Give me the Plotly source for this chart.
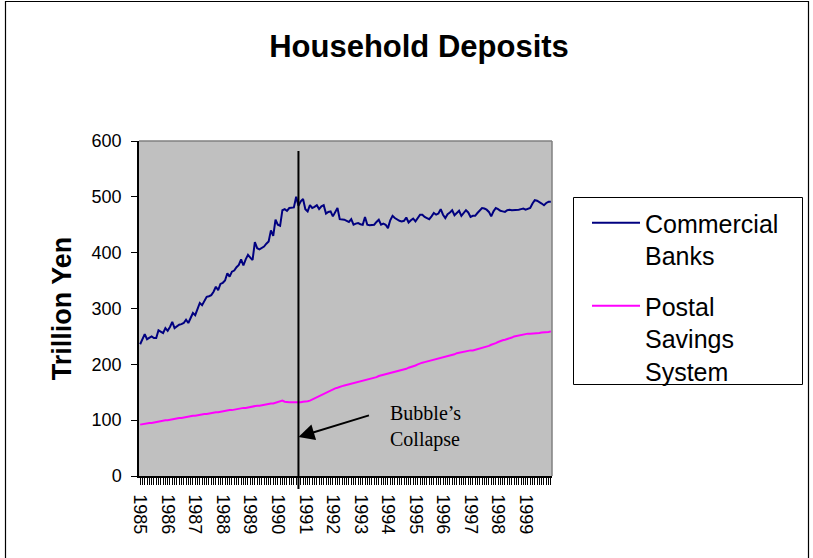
import plotly.graph_objects as go

years = list(range(1985, 2000))
month_names = ["Jan", "Feb", "Mar", "Apr", "May", "Jun", "Jul", "Aug", "Sep", "Oct", "Nov", "Dec"]
months = [f"{m} {y}" for y in years for m in month_names]

# Commercial Banks, trillion yen, monthly (one row per year)
commercial_banks = [
    236, 244, 254, 245, 248, 250, 247, 247, 261, 258, 256, 265,   # 1985
    260, 267, 276, 265, 268, 271, 272, 274, 280, 274, 283, 292,   # 1986
    288, 300, 310, 306, 314, 321, 322, 324, 330, 339, 333, 344,   # 1987
    346, 350, 363, 357, 366, 368, 374, 378, 388, 377, 388, 396,   # 1988
    391, 387, 419, 408, 406, 408, 411, 416, 420, 440, 430, 459,   # 1989
    450, 448, 476, 478, 475, 480, 480, 481, 500, 484, 492, 496,   # 1990
    478, 474, 485, 480, 482, 485, 478, 483, 485, 470, 473, 474,   # 1991
    465, 472, 480, 460, 460, 459, 457, 455, 460, 450, 452, 453,   # 1992
    451, 450, 464, 450, 449, 450, 450, 455, 459, 450, 452, 450,   # 1993
    444, 458, 466, 462, 459, 457, 456, 457, 463, 454, 458, 461,   # 1994
    456, 462, 468, 468, 464, 462, 460, 465, 471, 468, 470, 478,   # 1995
    468, 462, 469, 472, 476, 467, 472, 475, 466, 472, 476, 472,   # 1996
    464, 466, 466, 471, 475, 480, 479, 477, 473, 465, 474, 480,   # 1997
    478, 475, 474, 473, 476, 477, 476, 476, 477, 477, 478, 479,   # 1998
    477, 478, 480, 488, 494, 493, 491, 488, 485, 489, 491, 491,   # 1999
]

# Postal Savings System, trillion yen, monthly (one row per year)
postal_savings = [
    92, 93, 93, 94, 95, 95, 96, 97, 97, 98, 99, 100,              # 1985
    100, 101, 101, 102, 103, 104, 104, 105, 105, 106, 107, 108,   # 1986
    108, 109, 109, 110, 111, 111, 112, 112, 113, 114, 114, 115,   # 1987
    116, 116, 117, 118, 118, 119, 120, 120, 121, 122, 122, 123,   # 1988
    124, 124, 125, 126, 126, 127, 128, 128, 129, 130, 130, 131,   # 1989
    132, 134, 135, 133, 132, 132, 132, 132, 131, 132, 132, 133,   # 1990
    133, 134, 135, 137, 139, 142, 144, 146, 148, 150, 152, 154,   # 1991
    156, 157, 158, 160, 161, 162, 163, 164, 165, 166, 167, 168,   # 1992
    169, 170, 172, 173, 174, 175, 176, 177, 179, 180, 181, 182,   # 1993
    183, 184, 185, 186, 187, 189, 190, 191, 192, 194, 195, 196,   # 1994
    198, 200, 202, 203, 204, 205, 207, 208, 209, 210, 211, 212,   # 1995
    213, 214, 215, 216, 217, 218, 220, 221, 222, 223, 224, 224,   # 1996
    225, 225, 226, 227, 228, 229, 230, 232, 233, 235, 236, 238,   # 1997
    240, 242, 243, 244, 245, 247, 248, 250, 251, 252, 253, 254,   # 1998
    254, 255, 255, 255, 255, 256, 256, 257, 257, 258, 258, 259,   # 1999
]

tick_text = [m.split()[1] if m.startswith("Jan") else "" for m in months]
collapse_month = "Oct 1990"
arrow_value = 70

W, H = 813, 558
L, R, T, B = 139, 552, 141, 476  # plot area in pixels


def px_x(px):
    return (px - L) / (R - L)


def px_y(py):
    return (B - py) / (B - T)


fig = go.Figure()
fig.add_trace(go.Scatter(x=months, y=commercial_banks, mode="lines",
                         name="Commercial<br>Banks", legendgroup="banks",
                         line=dict(color="#000080", width=2)))
fig.add_trace(go.Scatter(x=months, y=postal_savings, mode="lines",
                         name="Postal<br>Savings<br>System", legendgroup="postal",
                         line=dict(color="#FF00FF", width=2)))

font_sans = "Liberation Sans, Arial, sans-serif"

fig.update_layout(
    width=W, height=H,
    margin=dict(l=L, r=W - R, t=T, b=H - B),
    paper_bgcolor="white",
    plot_bgcolor="#C0C0C0",
    title=dict(text="<b>Household Deposits</b>", x=419 / W, xanchor="center",
               y=1 - 46 / H, yanchor="middle", yref="container",
               font=dict(family=font_sans, size=31, color="black")),
    showlegend=True,
    legend=dict(x=px_x(587), y=px_y(200), xanchor="left", yanchor="top",
                bgcolor="rgba(0,0,0,0)", borderwidth=0,
                font=dict(family=font_sans, size=25, color="black"),
                valign="top", tracegroupgap=15, itemwidth=48),
    xaxis=dict(type="category", range=[-0.5, len(months) - 0.5],
               tickmode="array", tickvals=months, ticktext=tick_text,
               tickangle=90, ticks="outside", ticklen=7, tickwidth=1,
               tickcolor="black", showgrid=False, zeroline=False,
               showline=True, linecolor="black", linewidth=1.5,
               ticklabelstandoff=6,
               tickfont=dict(family=font_sans, size=18, color="black")),
    yaxis=dict(range=[0, 600], tickmode="linear", tick0=0, dtick=100,
               ticks="outside", ticklen=6, tickcolor="black",
               showgrid=False, zeroline=False, showline=True,
               linecolor="black", linewidth=1.5,
               ticklabelstandoff=6,
               tickfont=dict(family=font_sans, size=18, color="black"),
               title=dict(text="<b>Trillion Yen</b>", standoff=12,
                          font=dict(family=font_sans, size=27, color="black"))),
)

# plot-area border (top and right, grey)
fig.add_shape(type="line", xref="paper", yref="paper", x0=0, x1=1, y0=1, y1=1,
              line=dict(color="#808080", width=1.5))
fig.add_shape(type="line", xref="paper", yref="paper", x0=1, x1=1, y0=0, y1=1,
              line=dict(color="#808080", width=1.5))

# outer chart border
fig.add_shape(type="rect", xref="paper", yref="paper", layer="below",
              x0=px_x(5.5), x1=px_x(808.5), y0=px_y(600), y1=px_y(1.5),
              line=dict(color="black", width=1.2), fillcolor="rgba(0,0,0,0)")

# legend frame
fig.add_shape(type="rect", xref="paper", yref="paper", layer="below",
              x0=px_x(573.5), x1=px_x(802.5), y0=px_y(384.5), y1=px_y(197.5),
              line=dict(color="black", width=1), fillcolor="white")

# Bubble's collapse vertical line
fig.add_shape(type="line", xref="x", yref="paper", x0=collapse_month, x1=collapse_month,
              y0=px_y(489), y1=px_y(151), line=dict(color="black", width=2))

# arrow
fig.add_annotation(x=collapse_month, y=arrow_value, xref="x", yref="y",
                   text="", showarrow=True, ax=72, ay=-22,
                   arrowhead=2, arrowsize=1.6, arrowwidth=2, arrowcolor="black")
# label
fig.add_annotation(x=px_x(388), y=px_y(426), xref="paper", yref="paper",
                   text="Bubble\u2019s<br>Collapse", showarrow=False,
                   xanchor="left", yanchor="middle", align="left",
                   font=dict(family="Liberation Serif, Times New Roman, serif", size=20, color="black"))

fig.write_html("out.html", config={"displayModeBar": False},
               post_script="document.body.style.margin='0';")
